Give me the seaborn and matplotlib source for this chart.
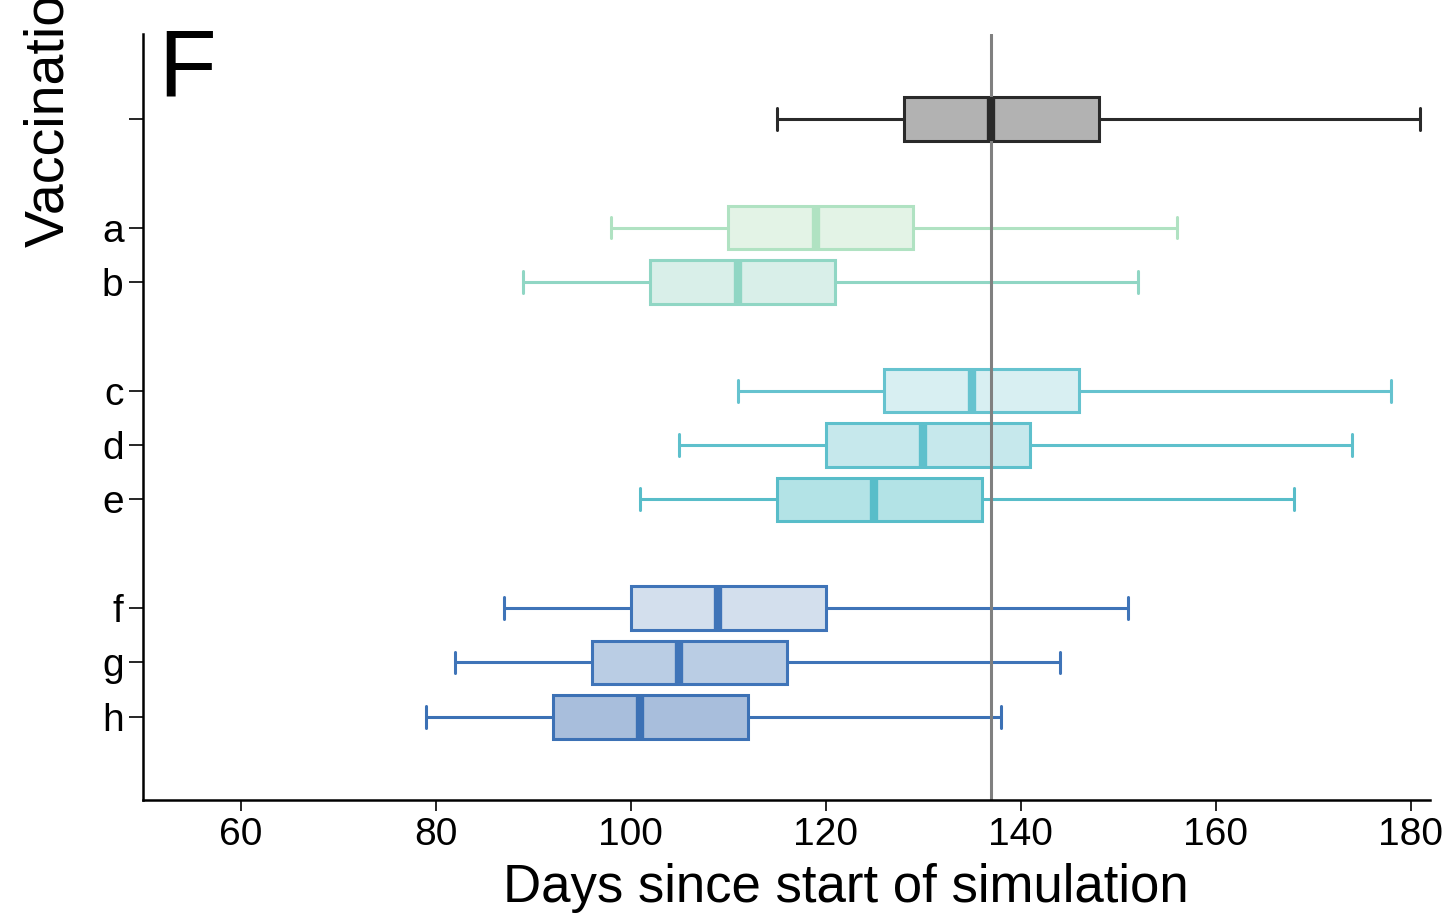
import numpy as np
import pandas as pd
import matplotlib
matplotlib.use("Agg")
import matplotlib.pyplot as plt
import seaborn as sns

# ----------------------------------------------------------
# Data: five-number summaries (days)
# ----------------------------------------------------------
groups = ["base", "a", "b", "c", "d", "e", "f", "g", "h"]
tick_labels = ["", "a", "b", "c", "d", "e", "f", "g", "h"]
whisker_low = [115, 98, 89, 111, 105, 101, 87, 82, 79]
q1 = [128, 110, 102, 126, 120, 115, 100, 96, 92]
median = [137, 119, 111, 135, 130, 125, 109, 105, 101]
q3 = [148, 129, 121, 146, 141, 136, 120, 116, 112]
whisker_high = [181, 156, 152, 178, 174, 168, 151, 144, 138]

# layout: row of each group (gaps between the blocks)
row_pos = [0, 2, 3, 5, 6, 7, 9, 10, 11]

edge_colors = ["#2a2a2a", "#b0e2c2", "#90d6c4", "#66c3cf", "#5ec0cc", "#58bdc9",
               "#3f74b8", "#3f74b8", "#3c71b5"]
face_colors = ["#b2b2b2", "#e3f3e6", "#d9efe9", "#d8eff2", "#c6e8ec", "#b3e3e6",
               "#d3dfed", "#bacde4", "#a8bedc"]

rows = []
for i, g in enumerate(groups):
    for v in [whisker_low[i], q1[i], median[i], q3[i], whisker_high[i]]:
        rows.append({"group": g, "pos": row_pos[i], "days": v})
df = pd.DataFrame(rows)

# ----------------------------------------------------------
# Plot
# ----------------------------------------------------------
sns.set_style("ticks")
plt.rcParams["font.family"] = ["Liberation Sans", "DejaVu Sans"]
for key in ["text.color", "axes.labelcolor", "xtick.color", "ytick.color", "axes.edgecolor"]:
    plt.rcParams[key] = "black"

fig = plt.figure(figsize=(14.42, 9.16), dpi=100)
ax = fig.add_axes([143 / 1442, 1 - 800 / 916, 1287 / 1442, 766 / 916])

# reference line at the baseline median, under the median bars
ax.axvline(median[0], color="#808080", lw=2.2, zorder=2.05)

for i, g in enumerate(groups):
    sub = df[df["group"] == g]
    sns.boxplot(data=sub, x="days", y="pos", orient="h", native_scale=True,
                color=face_colors[i], linecolor=edge_colors[i], saturation=1,
                linewidth=2.2, width=0.8, whis=(0, 100), ax=ax,
                medianprops={"linewidth": 6, "color": edge_colors[i], "zorder": 2.1})

ax.set_xlim(50, 182)
ax.set_ylim(12.53, -1.56)
ax.set_xticks([60, 80, 100, 120, 140, 160, 180])
ax.set_yticks(row_pos)
ax.set_yticklabels(tick_labels)
ax.set_ylabel("")
ax.set_xlabel("Days since start of simulation", fontsize=38)
ax.xaxis.set_label_coords(0.546, -0.082)

ax.tick_params(axis="x", labelsize=28, length=8, width=1.2, pad=4)
ax.tick_params(axis="y", labelsize=28, length=10, width=1.2, pad=4)
sns.despine(ax=ax)
for side in ["left", "bottom"]:
    ax.spines[side].set_linewidth(1.8)

fig.text(158 / 1442, 1 - 95 / 916, "F", fontsize=68, va="baseline", ha="left")
fig.text(50 / 1442, 1 - 247 / 916, "Vaccination strategy", fontsize=40,
         rotation=90, ha="center", va="bottom")

fig.savefig("out.png", dpi=100)
